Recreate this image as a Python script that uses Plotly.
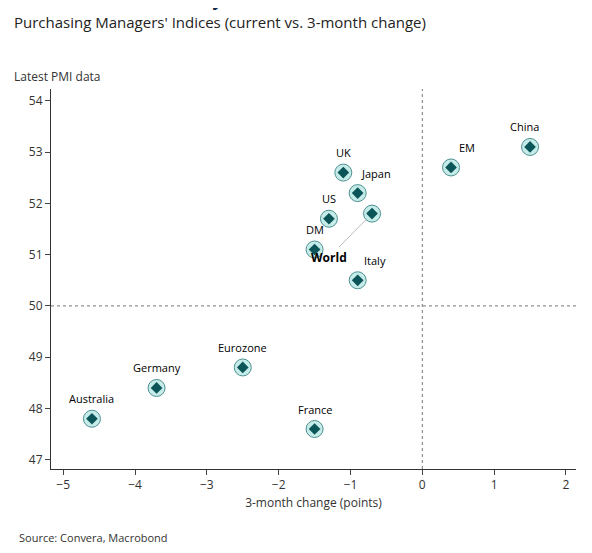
import plotly.graph_objects as go

names = ["Australia", "Germany", "Eurozone", "France", "DM", "US", "UK", "Japan", "World", "Italy", "EM", "China"]
chg = [-4.6, -3.7, -2.5, -1.5, -1.5, -1.3, -1.1, -0.9, -0.7, -0.9, 0.4, 1.5]
pmi = [47.8, 48.4, 48.8, 47.6, 51.1, 51.7, 52.6, 52.2, 51.8, 50.5, 52.7, 53.1]
label_shift = {"Japan": 18, "Italy": 17, "EM": 16, "China": -6}

fig = go.Figure()
fig.add_trace(go.Scatter(x=chg, y=pmi, mode="markers", hoverinfo="skip",
                         marker=dict(size=17, color="#c5ece8", line=dict(color="#4e8f92", width=1))))
fig.add_trace(go.Scatter(x=chg, y=pmi, mode="markers", text=names,
                         marker=dict(size=9, symbol="diamond", color="#0b5559")))

for n, x, y in zip(names, chg, pmi):
    if n == "World":
        fig.add_annotation(x=x, y=y, ax=-1.3, ay=50.95, axref="x", ayref="y",
                           text="<b>World</b>", showarrow=True, arrowhead=0,
                           arrowcolor="#bbbbbb", arrowwidth=1, standoff=9,
                           font=dict(size=12, color="black"))
    else:
        fig.add_annotation(x=x, y=y, text=n, showarrow=False, yshift=20,
                           xshift=label_shift.get(n, 0),
                           font=dict(size=11, color="black"))

fig.add_hline(y=50, line=dict(color="#777777", width=1, dash="dot"))
fig.add_vline(x=0, line=dict(color="#777777", width=1, dash="dot"))

fig.update_layout(
    width=592, height=553, showlegend=False,
    plot_bgcolor="white", paper_bgcolor="white",
    font=dict(family="Open Sans", color="#333333", size=12),
    margin=dict(l=43, r=24, t=81, b=92),
    xaxis=dict(range=[-5.17, 2.14], dtick=1, showgrid=False, zeroline=False,
               showline=True, linecolor="#333333", ticks="outside", ticklen=5,
               title=dict(text="3-month change (points)", font=dict(size=12), standoff=6)),
    yaxis=dict(range=[46.82, 54.23], dtick=1, showgrid=False, zeroline=False,
               showline=True, linecolor="#333333", ticks="outside", ticklen=5),
)
fig.add_annotation(text="<b>Global economic activity momentum weakens, services hit</b>",
                   xref="paper", yref="paper", x=-0.075, y=1.235, xanchor="left", yanchor="middle",
                   showarrow=False, font=dict(size=17, color="#0b2545"))
fig.add_annotation(text="Purchasing Managers' Indices (current vs. 3-month change)",
                   xref="paper", yref="paper", x=-0.075, y=1.175, xanchor="left", yanchor="middle",
                   showarrow=False, font=dict(size=15, color="#222222"))
fig.add_annotation(text="Latest PMI data", xref="paper", yref="paper", x=-0.075, y=1.005,
                   xanchor="left", yanchor="bottom", showarrow=False, font=dict(size=12))
fig.add_annotation(text="Source: Convera, Macrobond", xref="paper", yref="paper", x=-0.065, y=-0.155,
                   xanchor="left", yanchor="top", showarrow=False, font=dict(size=11))

fig.write_html("out.html")
